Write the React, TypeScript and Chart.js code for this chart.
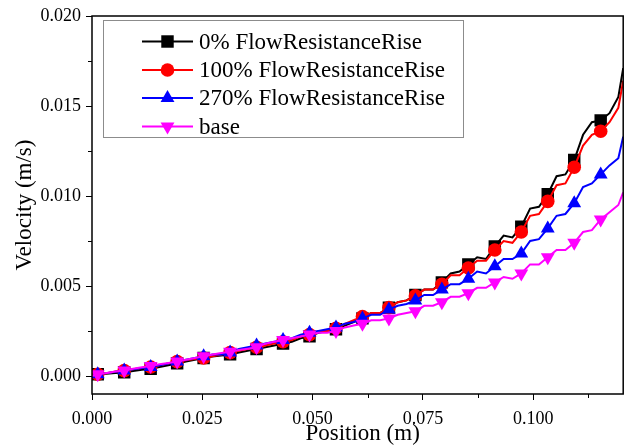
import React, { useEffect, useRef } from 'react';
import { Chart, registerables } from 'chart.js';

Chart.register(...registerables);

// Position (m) sampled along the channel for the curves
const positions = [
  0,
  0.0013, 0.0033, 0.0053, 0.0073, 0.0093, 0.0113, 0.0133, 0.0153, 0.0173, 0.0193,
  0.0213, 0.0233, 0.0253, 0.0273, 0.0293, 0.0313, 0.0333, 0.0353, 0.0373, 0.0393,
  0.0413, 0.0433, 0.0453, 0.0473, 0.0493, 0.0513, 0.0533, 0.0553, 0.0573, 0.0593,
  0.0613, 0.0633, 0.0653, 0.0673, 0.0693, 0.0713, 0.0733, 0.0753, 0.0773, 0.0793,
  0.0813, 0.0833, 0.0853, 0.0873, 0.0893, 0.0913, 0.0933, 0.0953, 0.0973, 0.0993,
  0.1013, 0.1033, 0.1053, 0.1073, 0.1093, 0.1113, 0.1133, 0.1153, 0.1173, 0.1193,
  0.1204,
];

// Positions where the markers are drawn
const markerPositions = [
  0.0013, 0.0073, 0.0133, 0.0193, 0.0253, 0.0313, 0.0373, 0.0433, 0.0493, 0.0553,
  0.0613, 0.0673, 0.0733, 0.0793, 0.0853, 0.0913, 0.0973, 0.1033, 0.1093, 0.1153,
];

// Velocity (m/s)
const rise0 = [
  0,
  0.0001, 0.00013, 0.00017, 0.0002, 0.00028, 0.00035, 0.0004, 0.0005, 0.0006,
  0.0007, 0.0008, 0.0009, 0.0010, 0.00108, 0.00114, 0.0012, 0.0013, 0.0014,
  0.0015, 0.0016, 0.0017, 0.0018, 0.0019, 0.0021, 0.0022, 0.0024, 0.0025,
  0.0026, 0.0028, 0.0030, 0.0032, 0.0035, 0.0035, 0.0038, 0.0041, 0.0042,
  0.0045, 0.0048, 0.0048, 0.0052, 0.0057, 0.0058, 0.0062, 0.0066, 0.0065,
  0.0072, 0.0078, 0.0077, 0.0083, 0.0093, 0.0094, 0.0101, 0.0111, 0.0112,
  0.0120, 0.0134, 0.0141, 0.0142, 0.0146, 0.0155,
  0.0171,
];
const rise100 = [
  0,
  0.0001, 0.00015, 0.00025, 0.0003, 0.00037, 0.00045, 0.0005, 0.0006, 0.0007,
  0.0008, 0.00088, 0.00095, 0.0010, 0.0011, 0.0012, 0.0013, 0.0014, 0.0015,
  0.0016, 0.0017, 0.0018, 0.0019, 0.0020, 0.0022, 0.0023, 0.0025, 0.0025,
  0.00265, 0.0029, 0.0031, 0.0033, 0.0035, 0.0035, 0.0038, 0.0041, 0.0042,
  0.00445, 0.0048, 0.0048, 0.0051, 0.0056, 0.0056, 0.0060, 0.0064, 0.0064,
  0.0070, 0.0075, 0.0074, 0.0080, 0.0089, 0.0090, 0.0097, 0.0106, 0.0107,
  0.0116, 0.0128, 0.0134, 0.0136, 0.0141, 0.0149,
  0.0164,
];
const rise270 = [
  0,
  0.0001, 0.00016, 0.00024, 0.0003, 0.00037, 0.00045, 0.0005, 0.0006, 0.0007,
  0.0008, 0.0009, 0.0010, 0.0011, 0.0012, 0.0012, 0.0013, 0.0015, 0.0016,
  0.0017, 0.0018, 0.0019, 0.0020, 0.0021, 0.0023, 0.0024, 0.0025, 0.0026,
  0.0027, 0.0029, 0.0030, 0.0032, 0.0034, 0.0034, 0.0037, 0.0039, 0.0040,
  0.0042, 0.0045, 0.0045, 0.0048, 0.0051, 0.0051, 0.0054, 0.0058, 0.0057,
  0.0061, 0.0065, 0.0065, 0.0068, 0.0075, 0.0076, 0.0082, 0.0089, 0.0090,
  0.0096, 0.0105, 0.0107, 0.0112, 0.0117, 0.0121,
  0.0133,
];
const base = [
  0,
  0.0001, 0.00017, 0.00025, 0.0003, 0.0004, 0.00048, 0.00055, 0.00065, 0.00072,
  0.0008, 0.0009, 0.0010, 0.0011, 0.0012, 0.00128, 0.00135, 0.00145, 0.00152,
  0.0016, 0.0018, 0.0019, 0.0020, 0.0021, 0.0022, 0.0023, 0.0024, 0.0024,
  0.0025, 0.0027, 0.0028, 0.0029, 0.0031, 0.0031, 0.0032, 0.0034, 0.0035,
  0.0036, 0.0039, 0.0039, 0.0041, 0.0044, 0.0044, 0.0046, 0.0049, 0.0049,
  0.0052, 0.0055, 0.0054, 0.0057, 0.0062, 0.0062, 0.0066, 0.0070, 0.0070,
  0.0074, 0.0080, 0.0081, 0.0087, 0.0091, 0.0095,
  0.0102,
];

const seriesNames = [
  '0% FlowResistanceRise',
  '100% FlowResistanceRise',
  '270% FlowResistanceRise',
  'base',
];
const seriesValues = [rise0, rise100, rise270, base];
const seriesColors = ['#000000', '#ff0000', '#0000ff', '#ff00ff'];
const seriesStyles = ['rect', 'circle', 'triangle', 'triangle'];
const seriesRotation = [0, 0, 0, 180];
const seriesRadius = [8.8, 6.8, 8, 8];

const xTicks = [0, 0.025, 0.05, 0.075, 0.1];
const xMinorTicks = [0.0125, 0.0375, 0.0625, 0.0875, 0.1125];
const yTicks = [0, 0.005, 0.01, 0.015, 0.02];
const yMinorTicks = [0.0025, 0.0075, 0.0125, 0.0175];

const SERIF = "'Liberation Serif', 'Times New Roman', serif";

function markerValues(vals: number[]) {
  return markerPositions.map((p) => {
    const idx = positions.findIndex((q) => Math.abs(q - p) < 1e-9);
    return vals[idx];
  });
}

function drawMarker(ctx: CanvasRenderingContext2D, style: string, rot: number, r: number, x: number, y: number) {
  ctx.beginPath();
  if (style === 'rect') {
    const s = Math.SQRT1_2 * r;
    ctx.rect(x - s, y - s, 2 * s, 2 * s);
  } else if (style === 'circle') {
    ctx.arc(x, y, r, 0, Math.PI * 2);
  } else {
    let a = (rot * Math.PI) / 180;
    ctx.moveTo(x + Math.sin(a) * r, y - Math.cos(a) * r);
    a += (2 * Math.PI) / 3;
    ctx.lineTo(x + Math.sin(a) * r, y - Math.cos(a) * r);
    a += (2 * Math.PI) / 3;
    ctx.lineTo(x + Math.sin(a) * r, y - Math.cos(a) * r);
    ctx.closePath();
  }
  ctx.fill();
}

const decorPlugin = {
  id: 'decor',
  afterDraw(chart: any) {
    const ctx: CanvasRenderingContext2D = chart.ctx;
    const { left, right, top, bottom } = chart.chartArea;
    const xs = chart.scales.x;
    const ys = chart.scales.y;
    ctx.save();
    // frame
    ctx.strokeStyle = '#000';
    ctx.lineWidth = 1.5;
    ctx.strokeRect(left, top, right - left, bottom - top);
    // minor ticks
    ctx.lineWidth = 1;
    ctx.beginPath();
    xMinorTicks.forEach((v) => {
      const px = Math.round(xs.getPixelForValue(v)) + 0.5;
      ctx.moveTo(px, bottom);
      ctx.lineTo(px, bottom + 4);
    });
    yMinorTicks.forEach((v) => {
      const py = Math.round(ys.getPixelForValue(v)) + 0.5;
      ctx.moveTo(left, py);
      ctx.lineTo(left - 4, py);
    });
    ctx.stroke();
    // axis titles
    ctx.fillStyle = '#000';
    ctx.font = `23px ${SERIF}`;
    ctx.textAlign = 'center';
    ctx.textBaseline = 'middle';
    ctx.fillText('Position (m)', (left + right) / 2 + 5, 434);
    ctx.save();
    ctx.translate(25, (top + bottom) / 2);
    ctx.rotate(-Math.PI / 2);
    ctx.fillText('Velocity (m/s)', 0, 0);
    ctx.restore();
    // legend
    const bx = 103.5, by = 20.5, bw = 360, bh = 117;
    ctx.fillStyle = '#fff';
    ctx.fillRect(bx, by, bw, bh);
    ctx.strokeStyle = '#8c8c8c';
    ctx.lineWidth = 1;
    ctx.strokeRect(bx, by, bw, bh);
    const rows = [41.5, 70, 98, 126.5];
    seriesNames.forEach((name, i) => {
      const y = rows[i];
      ctx.strokeStyle = seriesColors[i];
      ctx.lineWidth = 2;
      ctx.beginPath();
      ctx.moveTo(142, y);
      ctx.lineTo(193, y);
      ctx.stroke();
      ctx.fillStyle = seriesColors[i];
      drawMarker(ctx, seriesStyles[i], seriesRotation[i], seriesRadius[i], 167.5, y);
      ctx.fillStyle = '#000';
      ctx.textAlign = 'left';
      ctx.textBaseline = 'middle';
      ctx.font = `23px ${SERIF}`;
      ctx.fillText(name, 199, y + 1);
    });
    ctx.restore();
  },
};

export default function App() {
  const ref = useRef<HTMLCanvasElement | null>(null);
  useEffect(() => {
    if (!ref.current) return;
    const datasets: any[] = [];
    const n = seriesNames.length;
    seriesNames.forEach((name, i) => {
      const vals = seriesValues[i];
      const mv = markerValues(vals);
      const ord = (n - 1 - i) * 2;
      datasets.push({
        label: name + ' markers',
        data: markerPositions.map((x, j) => ({ x, y: mv[j] })),
        showLine: false,
        pointStyle: seriesStyles[i],
        rotation: seriesRotation[i],
        pointRadius: seriesRadius[i],
        pointHoverRadius: seriesRadius[i],
        pointBorderWidth: 0,
        backgroundColor: seriesColors[i],
        borderColor: seriesColors[i],
        order: ord,
      });
      datasets.push({
        label: name,
        data: positions.map((x, j) => ({ x, y: vals[j] })),
        borderColor: seriesColors[i],
        backgroundColor: seriesColors[i],
        borderWidth: 2,
        pointRadius: 0,
        tension: 0,
        fill: false,
        order: ord + 1,
      });
    });
    const chart = new Chart(ref.current, {
      type: 'line',
      data: { datasets },
      options: {
        responsive: false,
        animation: false,
        devicePixelRatio: 1,
        layout: { padding: { left: 0, top: 16, right: 5, bottom: 0 } },
        plugins: { legend: { display: false }, tooltip: { enabled: false } },
        scales: {
          x: {
            type: 'linear',
            min: 0,
            max: 0.1204,
            afterBuildTicks: (s: any) => {
              s.ticks = xTicks.map((v) => ({ value: v }));
            },
            afterFit: (s: any) => {
              s.height = 54;
            },
            grid: {
              drawOnChartArea: false,
              drawTicks: true,
              tickLength: 6,
              color: '#000',
              lineWidth: 1,
            },
            border: { display: false },
            ticks: {
              color: '#000',
              font: { family: SERIF, size: 18 },
              padding: 8,
              maxRotation: 0,
              autoSkip: false,
              callback: (v: any) => Number(v).toFixed(3),
            },
          },
          y: {
            type: 'linear',
            min: -0.001,
            max: 0.02,
            afterBuildTicks: (s: any) => {
              s.ticks = yTicks.map((v) => ({ value: v }));
            },
            afterFit: (s: any) => {
              s.width = 92;
            },
            grid: {
              drawOnChartArea: false,
              drawTicks: true,
              tickLength: 6,
              color: '#000',
              lineWidth: 1,
            },
            border: { display: false },
            ticks: {
              color: '#000',
              font: { family: SERIF, size: 18 },
              padding: 5,
              autoSkip: false,
              callback: (v: any) => Number(v).toFixed(3),
            },
          },
        },
      },
      plugins: [decorPlugin],
    });
    return () => chart.destroy();
  }, []);
  return (
    <div style={{ position: 'fixed', left: 0, top: 0, width: 632, height: 448, background: '#fff' }}>
      <canvas ref={ref} width={632} height={448} />
    </div>
  );
}
